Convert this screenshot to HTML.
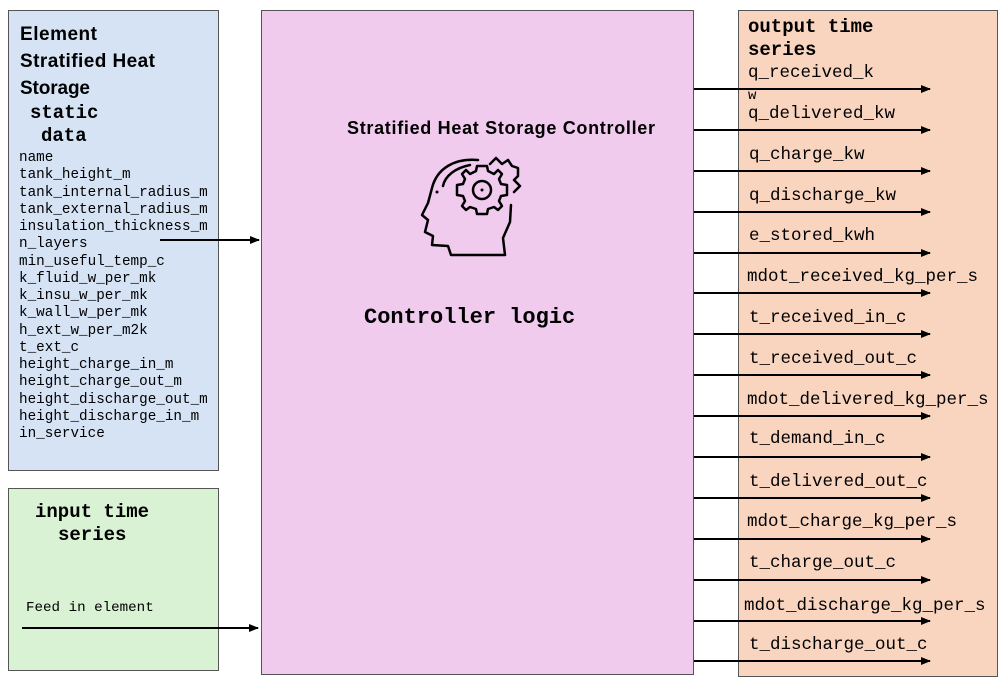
<!DOCTYPE html>
<html><head><style>body{margin:0;background:#fff}svg{display:block}</style></head><body>
<svg width="1006" height="684" xmlns="http://www.w3.org/2000/svg">
<defs><marker id="a" markerWidth="10" markerHeight="8" refX="9" refY="4" orient="auto" markerUnits="userSpaceOnUse"><path d="M0,0L10,4L0,8z" fill="#000"/></marker></defs>
<rect x="8.5" y="10.5" width="210" height="460" fill="#d5e3f5" stroke="#555"/>
<rect x="8.5" y="488.5" width="210" height="182" fill="#d9f2d3" stroke="#555"/>
<rect x="261.5" y="10.5" width="432" height="664" fill="#f0cbee" stroke="#555"/>
<rect x="738.5" y="10.5" width="259" height="666" fill="#f9d5c0" stroke="#555"/>
<g font-family="Liberation Sans, sans-serif" font-weight="bold" font-size="19" lengthAdjust="spacingAndGlyphs">
<text x="20" y="40" textLength="77">Element</text><text x="20" y="67" textLength="135">Stratified Heat</text><text x="20" y="94" textLength="70">Storage</text>
<text x="347" y="134" font-size="18" textLength="308">Stratified Heat Storage Controller</text></g>
<g font-family="Liberation Mono, monospace" font-weight="bold" font-size="19">
<text x="30" y="118">static</text><text x="41" y="141">data</text>
<text x="35" y="517">input time</text><text x="58" y="540">series</text>
<text x="748" y="32">output time</text><text x="748" y="55">series</text></g>
<text x="364" y="323" font-family="Liberation Mono, monospace" font-weight="bold" font-size="22">Controller logic</text>
<g font-family="Liberation Mono, monospace" font-size="14.3">
<text x="19" y="161">name</text><text x="19" y="178">tank_height_m</text><text x="19" y="196">tank_internal_radius_m</text><text x="19" y="213">tank_external_radius_m</text><text x="19" y="230">insulation_thickness_m</text><text x="19" y="247">n_layers</text><text x="19" y="265">min_useful_temp_c</text><text x="19" y="282">k_fluid_w_per_mk</text><text x="19" y="299">k_insu_w_per_mk</text><text x="19" y="316">k_wall_w_per_mk</text><text x="19" y="334">h_ext_w_per_m2k</text><text x="19" y="351">t_ext_c</text><text x="19" y="368">height_charge_in_m</text><text x="19" y="385">height_charge_out_m</text><text x="19" y="403">height_discharge_out_m</text><text x="19" y="420">height_discharge_in_m</text><text x="19" y="437">in_service</text>
<text x="26" y="611" font-size="14.2">Feed in element</text></g>
<g font-family="Liberation Mono, monospace" font-size="17.5">
<text x="748" y="77">q_received_k</text><text x="748" y="99" font-size="14">w</text><text x="748" y="118">q_delivered_kw</text><text x="749" y="159">q_charge_kw</text><text x="749" y="200">q_discharge_kw</text><text x="749" y="240">e_stored_kwh</text><text x="747" y="281">mdot_received_kg_per_s</text><text x="749" y="322">t_received_in_c</text><text x="749" y="363">t_received_out_c</text><text x="747" y="404">mdot_delivered_kg_per_s</text><text x="749" y="443">t_demand_in_c</text><text x="749" y="486">t_delivered_out_c</text><text x="747" y="526">mdot_charge_kg_per_s</text><text x="749" y="567">t_charge_out_c</text><text x="744" y="610">mdot_discharge_kg_per_s</text><text x="749" y="649">t_discharge_out_c</text></g>
<g stroke="#000" stroke-width="2" marker-end="url(#a)">
<line x1="160" y1="240" x2="259" y2="240"/><line x1="22" y1="628" x2="258" y2="628"/>
<line x1="694" y1="89" x2="930" y2="89"/><line x1="694" y1="130" x2="930" y2="130"/><line x1="694" y1="171" x2="930" y2="171"/><line x1="694" y1="212" x2="930" y2="212"/><line x1="694" y1="253" x2="930" y2="253"/><line x1="694" y1="293" x2="930" y2="293"/><line x1="694" y1="334" x2="930" y2="334"/><line x1="694" y1="375" x2="930" y2="375"/><line x1="694" y1="416" x2="930" y2="416"/><line x1="694" y1="457" x2="930" y2="457"/><line x1="694" y1="498" x2="930" y2="498"/><line x1="694" y1="539" x2="930" y2="539"/><line x1="694" y1="580" x2="930" y2="580"/><line x1="694" y1="621" x2="930" y2="621"/><line x1="694" y1="661" x2="930" y2="661"/></g>
<g fill="none" stroke="#000" stroke-width="2.5" stroke-linecap="round" stroke-linejoin="round">
<path d="M478,160 C455,158 437,168 432,188 L428,203 L422,215 L428,220 L425,232 L433,236 L432,245 L448,246 L451,255 L505,255 L503,238 L510,222 L511,205"/>
<path d="M470,165 C455,168 445,176 443,186"/>
<circle cx="482" cy="190" r="9"/>
<path d="M482,166 L487,166 L488,171 L494,174 L498,170 L502,174 L499,179 L501,184 L507,185 L507,195 L501,196 L499,201 L502,206 L498,210 L494,207 L488,209 L487,214 L477,214 L476,209 L470,207 L466,210 L462,206 L465,201 L463,196 L457,195 L457,185 L463,184 L465,179 L462,174 L466,170 L470,174 L476,171 L477,166 Z"/>
<path d="M490,164 L496,158 L502,164 L508,160 L512,166 L518,168 L518,176 L514,180 L520,186 L514,192"/>
</g>
<circle cx="482" cy="190" r="1.5"/><circle cx="437" cy="192" r="1.5"/>
</svg>
</body></html>
